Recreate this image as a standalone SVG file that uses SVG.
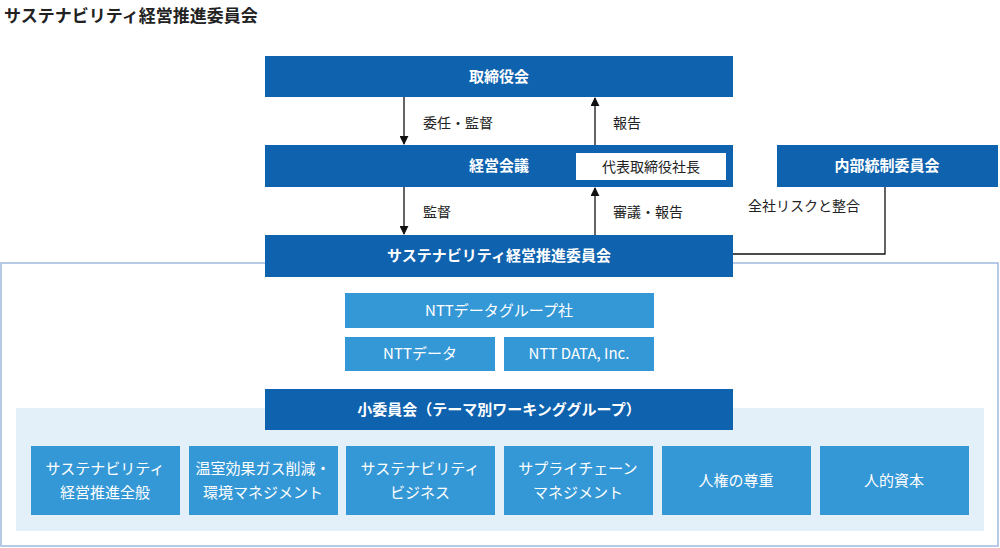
<svg xmlns="http://www.w3.org/2000/svg" width="1000" height="548" viewBox="0 0 1000 548">
<defs>
<style>
text{font-family:"Noto Sans CJK JP","Noto Sans",sans-serif;}
.d{fill:#0f62ae;}
.m{fill:#3598d6;}
.w{fill:#fff;font-size:15px;text-anchor:middle;font-weight:bold;}
.wn{fill:#fff;font-size:15px;text-anchor:middle;}
.l{fill:#222;font-size:14px;}
.c{stroke:#111;stroke-width:1.3;fill:none;}
</style>
<marker id="a" viewBox="0 0 10 10" refX="9" refY="5" markerWidth="9" markerHeight="9" markerUnits="userSpaceOnUse" orient="auto"><path d="M0,0L10,5L0,10z" fill="#111"/></marker>
</defs>
<rect width="1000" height="548" fill="#fff"/>
<text x="4" y="22" font-size="17" font-weight="bold" fill="#222">サステナビリティ経営推進委員会</text>
<rect x="1" y="263" width="997" height="283" fill="#fff" stroke="#9fb9de" stroke-width="1.5"/>
<rect x="16" y="408" width="968" height="123" fill="#e3eff9"/>
<g id="connectors">
<line class="c" x1="404" y1="97" x2="404" y2="144" marker-end="url(#a)"/>
<line class="c" x1="595" y1="145" x2="595" y2="98" marker-end="url(#a)"/>
<line class="c" x1="404" y1="187" x2="404" y2="234" marker-end="url(#a)"/>
<line class="c" x1="595" y1="235" x2="595" y2="188" marker-end="url(#a)"/>
<polyline class="c" points="733,254 885,254 885,187" stroke-width="1"/>
<text class="l" x="423" y="128">委任・監督</text>
<text class="l" x="613" y="128">報告</text>
<text class="l" x="423" y="217">監督</text>
<text class="l" x="613" y="217">審議・報告</text>
<text class="l" x="748" y="211">全社リスクと整合</text>
</g>
<g id="board"><rect class="d" x="265" y="56" width="468" height="41"/><text class="w" x="499" y="82">取締役会</text></g>
<g id="mgmt"><rect class="d" x="265" y="145" width="468" height="42"/><text class="w" x="499" y="171">経営会議</text>
<rect x="576" y="153" width="150" height="27" fill="#fff"/><text x="651" y="172" font-size="14" text-anchor="middle" fill="#222">代表取締役社長</text></g>
<g id="internal"><rect class="d" x="777" y="145" width="221" height="42"/><text class="w" x="887" y="171">内部統制委員会</text></g>
<g id="susco"><rect class="d" x="265" y="235" width="468" height="42"/><text class="w" x="499" y="261">サステナビリティ経営推進委員会</text></g>
<g id="ntg"><rect class="m" x="345" y="293" width="309" height="35"/><text class="wn" x="499" y="316">NTTデータグループ社</text></g>
<g id="ntd"><rect class="m" x="345" y="337" width="150" height="34"/><text class="wn" x="420" y="359">NTTデータ</text></g>
<g id="inc"><rect class="m" x="504" y="337" width="150" height="34"/><text class="wn" x="579" y="359">NTT DATA, Inc.</text></g>
<g id="sub"><rect class="d" x="265" y="389" width="468" height="41"/><text class="w" x="499" y="415">小委員会（テーマ別ワーキンググループ）</text></g>
<g id="s1"><rect class="m" x="31" y="446" width="149" height="69"/><text class="wn" x="105" y="474">サステナビリティ</text><text class="wn" x="105" y="498">経営推進全般</text></g>
<g id="s2"><rect class="m" x="189" y="446" width="149" height="69"/><text class="wn" x="263" y="474">温室効果ガス削減・</text><text class="wn" x="263" y="498">環境マネジメント</text></g>
<g id="s3"><rect class="m" x="346" y="446" width="149" height="69"/><text class="wn" x="420" y="474">サステナビリティ</text><text class="wn" x="420" y="498">ビジネス</text></g>
<g id="s4"><rect class="m" x="504" y="446" width="149" height="69"/><text class="wn" x="578" y="474">サプライチェーン</text><text class="wn" x="578" y="498">マネジメント</text></g>
<g id="s5"><rect class="m" x="662" y="446" width="149" height="69"/><text class="wn" x="736" y="486">人権の尊重</text></g>
<g id="s6"><rect class="m" x="820" y="446" width="149" height="69"/><text class="wn" x="894" y="486">人的資本</text></g>
</svg>
